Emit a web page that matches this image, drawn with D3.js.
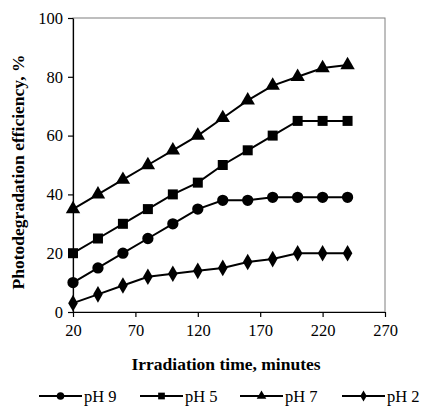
<!DOCTYPE html>
<html>
<head>
<meta charset="utf-8">
<script src="https://cdn.jsdelivr.net/npm/d3@7"></script>
<style>
  body { margin: 0; background: #fff; }
  svg, svg text { font-family: "Liberation Serif", "Times New Roman", serif; }
</style>
</head>
<body>
<svg id="chart" width="423" height="407"></svg>
<script>
// irradiation time, minutes
const times = [20, 40, 60, 80, 100, 120, 140, 160, 180, 200, 220, 240];
const ph9 = [10, 15, 20, 25, 30, 35, 38, 38, 39, 39, 39, 39];
const ph5 = [20, 25, 30, 35, 40, 44, 50, 55, 60, 65, 65, 65];
const ph7 = [35, 40, 45, 50, 55, 60, 66, 72, 77, 80, 83, 84];
const ph2 = [3, 6, 9, 12, 13, 14, 15, 17, 18, 20, 20, 20];
const xTicks = [20, 70, 120, 170, 220, 270];
const yTicks = [0, 20, 40, 60, 80, 100];

const series = [
    { name: "pH 9", values: ph9, symbol: d3.symbolCircle, size: 100 },
    { name: "pH 5", values: ph5, symbol: d3.symbolSquare, size: 100 },
    { name: "pH 7", values: ph7, symbol: d3.symbolTriangle, size: 90 },
    { name: "pH 2", values: ph2, symbol: d3.symbolDiamond, size: 80 }
];

const svg = d3.select("#chart");
const margin = { left: 73, top: 18, right: 38, bottom: 95 };
const width = 423 - margin.left - margin.right;
const height = 407 - margin.top - margin.bottom;

const g = svg.append("g")
    .attr("transform", `translate(${margin.left},${margin.top})`);

const xscale = d3.scaleLinear().domain([20, 270]).range([0, width]);
const yscale = d3.scaleLinear().domain([0, 100]).range([height, 0]);

// frame (top & right in grey)
g.append("rect")
    .attr("x", 0).attr("y", 0)
    .attr("width", width).attr("height", height)
    .attr("fill", "none")
    .attr("stroke", "#7f7f7f")
    .attr("stroke-width", 1);

const xaxis = g.append("g")
    .attr("transform", `translate(0,${height})`)
    .call(d3.axisBottom(xscale).tickValues(xTicks).tickSize(5).tickPadding(7).tickSizeOuter(0));
const yaxis = g.append("g")
    .call(d3.axisLeft(yscale).tickValues(yTicks).tickSize(5).tickPadding(5).tickSizeOuter(0));

[xaxis, yaxis].forEach(a => {
    a.attr("font-family", null);
    a.selectAll("path, line").attr("stroke", "#000").attr("stroke-width", 1.2);
    a.selectAll("text")
        .attr("fill", "#000")
        .style("font-size", "16.5px");
});

const line = d3.line()
    .x((d, i) => xscale(times[i]))
    .y(d => yscale(d));

series.forEach(s => {
    g.append("path")
        .datum(s.values)
        .attr("d", line)
        .attr("fill", "none")
        .attr("stroke", "#000")
        .attr("stroke-width", 2);

    g.selectAll(null)
        .data(s.values)
        .join("path")
        .attr("transform", (d, i) => `translate(${xscale(times[i])},${yscale(d)})`)
        .attr("d", d3.symbol().type(s.symbol).size(s.size))
        .attr("fill", "#000");
});

// axis titles
svg.append("text")
    .attr("x", 226)
    .attr("y", 370)
    .attr("text-anchor", "middle")
    .style("font-size", "17.5px")
    .style("font-weight", "bold")
    .text("Irradiation time, minutes");

svg.append("text")
    .attr("transform", `translate(24,172) rotate(-90)`)
    .attr("text-anchor", "middle")
    .style("font-size", "17.5px")
    .style("font-weight", "bold")
    .text("Photodegradation efficiency, %");

// legend
const legendX = [39, 140, 240, 342];
const legend = svg.append("g");
series.forEach((s, i) => {
    const lg = legend.append("g").attr("transform", `translate(${legendX[i]},396)`);
    lg.append("line")
        .attr("x1", 0).attr("x2", 43)
        .attr("y1", 0).attr("y2", 0)
        .attr("stroke", "#000")
        .attr("stroke-width", 2);
    lg.append("path")
        .attr("transform", "translate(21.5,0)")
        .attr("d", d3.symbol().type(s.symbol).size(s.size * 0.45))
        .attr("fill", "#000");
    lg.append("text")
        .attr("x", 45)
        .attr("y", 5.5)
        .style("font-size", "16.5px")
        .text(s.name);
});
</script>
</body>
</html>
